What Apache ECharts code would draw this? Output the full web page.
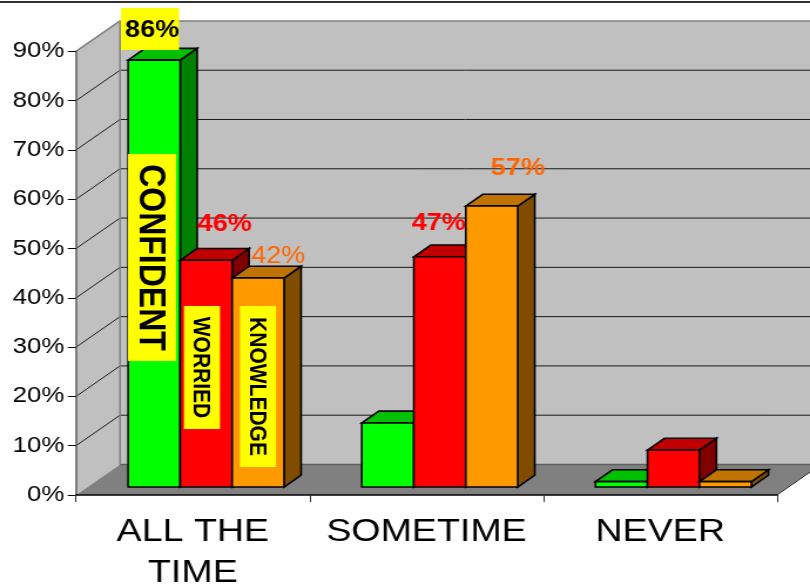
<!DOCTYPE html>
<html><head><meta charset="utf-8">
<style>html,body{margin:0;padding:0;background:#fff;overflow:hidden}
#c{width:690px;height:586px;transform:scaleX(1.1739);transform-origin:0 0}</style>
<script src="https://cdn.jsdelivr.net/npm/echarts@6/dist/echarts.min.js"></script>
</head><body><div id="c"></div>
<script>
const categories = ['ALL THE\nTIME', 'SOMETIME', 'NEVER'];
const yTicks = [0, 10, 20, 30, 40, 50, 60, 70, 80, 90];
const confident = [86.6, 13, 1.1];
const worried = [46, 46.7, 7.5];
const knowledge = [42.4, 57, 1.1];
const seriesNames = ['CONFIDENT', 'WORRIED', 'KNOWLEDGE'];
const valueLabels = [
  [0, 0, '86%'], [1, 0, '46%'], [2, 0, '42%'], [1, 1, '47%'], [2, 1, '57%']
];

const SX = 810 / 690;
const px = x => x / SX;
const labelStyles = [
  {dx: -2, dy: -30, color: '#000', weight: 'bold', box: true},
  {dx: 18.5, dy: -36, color: '#ff0000', weight: 'bold'},
  {dx: 20, dy: -21, color: '#ff6600', weight: 'normal'},
  {dx: -1, dy: -33, color: '#ff0000', weight: 'bold'},
  {dx: 26, dy: -37.5, color: '#ff6600', weight: 'bold'}
];
const FONT = '"Liberation Sans", Arial, sans-serif';
const WALL_DX = px(44), WALL_DY = 30.5;
const OFF_X = px(13.3), OFF_Y = 8;
const DEPTH = 0.386;
const BAR_FRAC = 0.2225;
const palettes = [
  {front: '#00ff00', top: '#00c000', side: '#008000'},
  {front: '#ff0000', top: '#c00000', side: '#800000'},
  {front: '#ff9900', top: '#c07300', side: '#804d00'}
];

function poly(points, fill, stroke, lw) {
  return {type: 'polygon', shape: {points}, style: {fill, stroke: stroke || 'none', lineWidth: lw || 0}};
}
function seg(a, b, stroke, lw) {
  return {type: 'line', shape: {x1: a[0], y1: a[1], x2: b[0], y2: b[1]}, style: {stroke, lineWidth: lw}};
}
function renderWalls(params, api) {
  const cs = params.coordSys;
  const xl = cs.x, xr = cs.x + cs.width;
  const y0 = api.coord([0, 0])[1], yT = api.coord([0, 90])[1];
  const d = WALL_DX, h = WALL_DY;
  const ch = [
    poly([[xl + d, yT - h], [xr + d, yT - h], [xr + d, y0 - h], [xl + d, y0 - h]], '#c0c0c0'),
    poly([[xl, yT], [xl + d, yT - h], [xl + d, y0 - h], [xl, y0]], '#c0c0c0'),
    poly([[xl, y0], [xr, y0], [xr + d, y0 - h], [xl + d, y0 - h]], '#808080')
  ];
  yTicks.forEach(t => {
    const y = api.coord([0, t])[1];
    if (t > 0 && t < 90) {
      ch.push(seg([xl, y], [xl + d, y - h], '#1a1a1a', 1));
      ch.push(seg([xl + d, y - h], [xr + d, y - h], '#1a1a1a', 1));
    }
  });
  ch.push(seg([xl, yT], [xl + d, yT - h], '#808080', 1.5));
  ch.push(seg([xl + d, yT - h], [xr + d, yT - h], '#808080', 1.5));
  ch.push(seg([xl + d, yT - h], [xl + d, y0 - h], '#808080', 1.5));
  ch.push(seg([xl + d, y0 - h], [xr + d, y0 - h], '#606060', 1.5));
  ch.push(seg([xr, y0], [xr + d, y0 - h], '#303030', 1));
  return {type: 'group', children: ch};
}
function barRenderer(idx) {
  return function (params, api) {
    const band = api.size([1, 0])[0];
    const w = band * BAR_FRAC;
    const c = api.coord([api.value(0), api.value(1)]);
    const b = api.coord([api.value(0), 0]);
    const x0 = c[0] + OFF_X + (idx - 1.5) * w, x1 = x0 + w;
    const top = c[1] - OFF_Y, bot = b[1] - OFF_Y;
    const dx = WALL_DX * DEPTH, dy = WALL_DY * DEPTH;
    const p = palettes[idx];
    const s = '#000', lw = 1.6;
    return {type: 'group', children: [
      poly([[x1, top], [x1 + dx, top - dy], [x1 + dx, bot - dy], [x1, bot]], p.side, s, lw),
      poly([[x0, top], [x0 + dx, top - dy], [x1 + dx, top - dy], [x1, top]], p.top, s, lw),
      poly([[x0, top], [x1, top], [x1, bot], [x0, bot]], p.front, s, lw)
    ]};
  };
}
const seriesValues = [confident, worried, knowledge];
function renderLabel(params, api) {
  const k = params.dataIndex;
  const [ser, cat, text] = valueLabels[k];
  const st = labelStyles[k];
  const v = seriesValues[ser][cat];
  const band = api.size([1, 0])[0];
  const w = band * BAR_FRAC;
  const c = api.coord([cat, v]);
  const cx = c[0] + OFF_X + (ser - 1) * w + px(st.dx);
  const cy = c[1] - OFF_Y + st.dy;
  const ch = [];
  if (st.box) {
    ch.push({type: 'rect', shape: {x: px(121), y: 8, width: px(58), height: 42}, style: {fill: '#ffff00'}});
  }
  ch.push({type: 'text', x: cx, y: cy, style: {text, fill: st.color,
    font: st.weight + ' 23px ' + FONT, align: 'center', verticalAlign: 'middle'}});
  return {type: 'group', children: ch};
}
function sideTag(text, x0, x1, y0, y1, size) {
  return [
    {type: 'rect', z: 50, shape: {x: px(x0), y: y0, width: px(x1 - x0), height: y1 - y0}, style: {fill: '#ffff00'}},
    {type: 'text', z: 51, x: px((x0 + x1) / 2 - 1.5), y: (y0 + y1) / 2, rotation: -Math.PI / 2,
      style: {text, fill: '#000', font: 'bold ' + size + 'px ' + FONT, align: 'center', verticalAlign: 'middle'}}
  ];
}

const chart = echarts.init(document.getElementById('c'), null, {width: 690, height: 586});
chart.setOption({
  animation: false,
  backgroundColor: '#ffffff',
  grid: {left: px(76), width: px(701), top: 51.4, height: 443.6, containLabel: false, outerBoundsMode: 'none'},
  xAxis: {
    type: 'category', data: categories, boundaryGap: true,
    axisLine: {lineStyle: {color: '#000', width: 1.5}},
    axisTick: {show: true, alignWithLabel: false, length: 7, lineStyle: {color: '#333', width: 1}},
    axisLabel: {interval: 0, color: '#000', fontSize: 32, fontFamily: FONT, lineHeight: 41, margin: 17}
  },
  yAxis: {
    type: 'value', min: 0, max: 90, interval: 10,
    splitLine: {show: false},
    axisLine: {show: true, lineStyle: {color: '#606060', width: 1.5}},
    axisTick: {show: true, length: 7, lineStyle: {color: '#000', width: 1}},
    axisLabel: {color: '#000', fontSize: 22, fontFamily: FONT, margin: 10, padding: [2, 0, 0, 0], formatter: v => v + '%'}
  },
  series: [
    {type: 'custom', name: 'walls', z: -1, clip: false, silent: true, renderItem: renderWalls, data: [[0, 0]]},
    ...seriesNames.map((name, i) => ({
      type: 'custom', name, z: 2 + i, clip: false, silent: true, renderItem: barRenderer(i),
      encode: {x: 0, y: 1}, data: seriesValues[i].map((v, c) => [c, v])
    })),
    {type: 'custom', name: 'labels', z: 10, clip: false, silent: true, renderItem: renderLabel,
      data: valueLabels.map((l, i) => [l[1], i])}
  ],
  graphic: [
    {type: 'rect', z: 49, shape: {x: 0, y: 1, width: 690, height: 2}, style: {fill: '#303030'}},
    ...sideTag('CONFIDENT', 128, 176, 154, 361, 32),
    ...sideTag('WORRIED', 184, 220, 306, 429, 21),
    ...sideTag('KNOWLEDGE', 240, 276, 306, 467, 21)
  ]
});
</script></body></html>
